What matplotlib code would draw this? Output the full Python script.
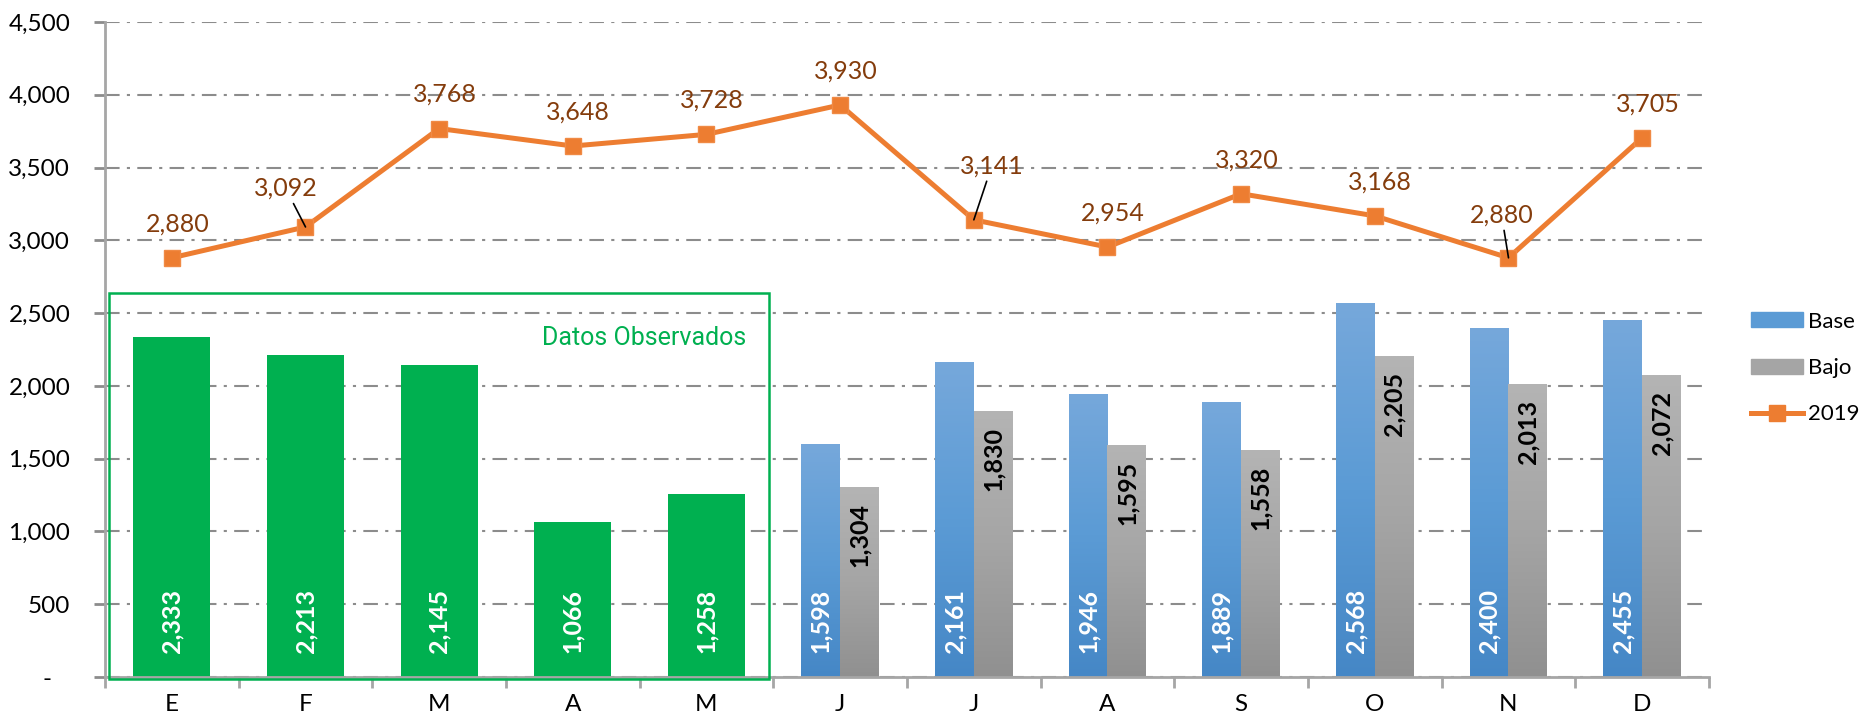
import numpy as np
import matplotlib
matplotlib.use('Agg')
import matplotlib.pyplot as plt
from matplotlib.colors import LinearSegmentedColormap
from matplotlib.patches import Rectangle, Patch
from matplotlib.lines import Line2D
from matplotlib.ticker import FuncFormatter

plt.rcParams['font.family'] = ['Lato', 'DejaVu Sans']

# Datos
meses = ['E', 'F', 'M', 'A', 'M', 'J', 'J', 'A', 'S', 'O', 'N', 'D']
observados = [2333, 2213, 2145, 1066, 1258]
base = [1598, 2161, 1946, 1889, 2568, 2400, 2455]
bajo = [1304, 1830, 1595, 1558, 2205, 2013, 2072]
serie_2019 = [2880, 3092, 3768, 3648, 3728, 3930, 3141, 2954, 3320, 3168, 2880, 3705]

verde = '#00B050'
naranja = '#ED7D31'
cafe = '#843C0C'
gris_grid = '#8C8C8C'
gris_eje = '#A6A6A6'

cmap_azul = LinearSegmentedColormap.from_list('azul', ['#4587C6', '#5B9BD5', '#76A8DB'])
cmap_gris = LinearSegmentedColormap.from_list('gris', ['#909090', '#A5A5A5', '#B4B4B4'])

fig = plt.figure(figsize=(18.64, 7.23), dpi=100)
ax = fig.add_axes([105 / 1864, 1 - 677 / 723, (1709 - 105) / 1864, (677 - 22) / 723])

x = np.arange(len(meses))
x_obs = x[:len(observados)]
x_proy = x[len(observados):]
w = 0.29

# barras observadas
b_obs = ax.bar(x_obs, observados, width=0.575, color=verde, zorder=2)

# barras proyectadas con degradado
b_base = ax.bar(x_proy - w / 2, base, width=w, color='none', zorder=2)
b_bajo = ax.bar(x_proy + w / 2, bajo, width=w, color='none', zorder=2)
grad = np.linspace(0, 1, 256).reshape(-1, 1)
for barras, cm in [(b_base, cmap_azul), (b_bajo, cmap_gris)]:
    for r in barras:
        x0, h, bw = r.get_x(), r.get_height(), r.get_width()
        im = ax.imshow(grad, extent=[x0, x0 + bw, 0, h], origin='lower', aspect='auto',
                       cmap=cm, zorder=2)
        im.set_clip_path(r)

# etiquetas de barras
for r, v in zip(list(b_obs) + list(b_base), observados + base):
    ax.annotate(f'{v:,}', (r.get_x() + r.get_width() / 2, 0), xytext=(0, 17),
                textcoords='offset points', rotation=90, ha='center', va='bottom',
                color='white', fontsize=18, fontweight='bold', zorder=5)
for r, v in zip(b_bajo, bajo):
    ax.annotate(f'{v:,}', (r.get_x() + r.get_width() / 2, v), xytext=(0, -11.5),
                textcoords='offset points', rotation=90, ha='center', va='top',
                color='black', fontsize=18, fontweight='bold', zorder=5)

# serie 2019
ax.plot(x, serie_2019, color=naranja, lw=3.6, marker='s', markersize=11,
        markerfacecolor=naranja, markeredgecolor='#F08A45', zorder=4)
desplaz = {1: (-14.4, 28), 6: (13, 39), 10: (-5, 31)}
for i, v in enumerate(serie_2019):
    off = desplaz.get(i, (4, 24.5))
    flecha = None
    if i in desplaz:
        flecha = dict(arrowstyle='-', color='black', lw=1.2, shrinkA=1, shrinkB=0)
    ax.annotate(f'{v:,}', (x[i], v), xytext=off, textcoords='offset points',
                ha='center', va='center', color=cafe, fontsize=18, zorder=6,
                arrowprops=flecha)

# recuadro datos observados
ax.add_patch(Rectangle((-0.47, -14), 4.935, 2651, fill=False, edgecolor=verde,
                       lw=1.8, zorder=3, clip_on=False))
ax.text(4.3, 2328, 'Datos Observados', ha='right', va='center', color=verde,
        fontsize=18, family='Roboto', zorder=5)

# ejes
ax.set_xlim(-0.5, 11.5)
ax.set_ylim(0, 4500)
ax.set_yticks(np.arange(0, 4501, 500))
ax.yaxis.set_major_formatter(FuncFormatter(lambda v, p: '-   ' if v == 0 else f'{v:,.0f}'))
ax.set_xticks(np.arange(-0.5, 12, 1))
ax.set_xticklabels([])
ax.set_xticks(x, minor=True)
ax.set_xticklabels(meses, minor=True)
ax.tick_params(axis='x', which='major', length=8, width=2, color=gris_eje, direction='out')
ax.tick_params(axis='x', which='minor', length=0, pad=12, labelsize=17.5)
ax.tick_params(axis='y', length=8, width=2, color=gris_grid, direction='out', pad=17,
               labelsize=17.5)
ax.grid(axis='y', color=gris_grid, lw=1.5, linestyle=(0, (7, 3.5, 1.5, 3.5)), zorder=0)
ax.set_axisbelow(True)
for s in ['top', 'right']:
    ax.spines[s].set_visible(False)
for s in ['left', 'bottom']:
    ax.spines[s].set_color(gris_eje)
    ax.spines[s].set_linewidth(2)

# leyenda
handles = [Patch(color='#5B9BD5', label='Base'),
           Patch(color='#A5A5A5', label='Bajo'),
           Line2D([], [], color=naranja, lw=3.6, marker='s', markersize=11, label='2019')]
fig.legend(handles=handles, loc='center left', bbox_to_anchor=(1751 / 1864, 1 - 368 / 723),
           frameon=False, fontsize=16, handlelength=2.34, handleheight=0.68,
           handletextpad=0.22, labelspacing=1.19, borderpad=0, borderaxespad=0)

plt.savefig('out.png', dpi=100)
